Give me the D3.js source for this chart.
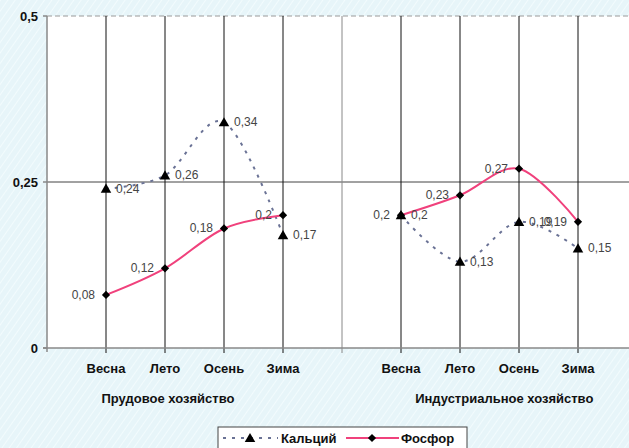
<!DOCTYPE html>
<html>
<head>
<meta charset="utf-8">
<script src="https://cdn.jsdelivr.net/npm/d3@7"></script>
<style>
  html, body { margin: 0; padding: 0; background: #e8f6fa; }
  svg { display: block; font-family: "Liberation Sans", Arial, sans-serif; }
</style>
</head>
<body>
<svg id="chart" width="629" height="448"></svg>
<script>
// ---- data ----
const categories = ["Весна", "Лето", "Осень", "Зима", "", "Весна", "Лето", "Осень", "Зима"];
const groups = ["Прудовое хозяйство", "Индустриальное хозяйство"];
const calcium = [0.24, 0.26, 0.34, 0.17, null, 0.2, 0.13, 0.19, 0.15];
const phosphorus = [0.08, 0.12, 0.18, 0.2, null, 0.2, 0.23, 0.27, 0.19];
const yTicks = [0, 0.25, 0.5];
const seriesNames = ["Кальций", "Фосфор"];

// ---- layout ----
const W = 629, H = 448;
const svg = d3.select("#chart");
const x = d3.scaleLinear().domain([0, 10]).range([47, 637]);
const y = d3.scaleLinear().domain([0, 0.5]).range([348, 16]);
const fmt = v => String(v).replace(".", ",");

// background with subtle diagonal texture
const defs = svg.append("defs");
const pat = defs.append("pattern").attr("id", "bgp").attr("width", 6).attr("height", 6)
  .attr("patternUnits", "userSpaceOnUse").attr("patternTransform", "rotate(35)");
pat.append("rect").attr("width", 6).attr("height", 6).attr("fill", "#e7f5f9");
pat.append("line").attr("x1", 0).attr("y1", 0).attr("x2", 0).attr("y2", 6)
  .attr("stroke", "#f2fbfd").attr("stroke-width", 2);
svg.append("rect").attr("width", W).attr("height", H).attr("fill", "url(#bgp)");

// plot area
svg.append("rect").attr("x", x(0)).attr("y", y(0.5))
  .attr("width", W - x(0)).attr("height", y(0) - y(0.5)).attr("fill", "#ffffff");

// top border dashed
svg.append("line").attr("x1", x(0)).attr("x2", W).attr("y1", y(0.5)).attr("y2", y(0.5))
  .attr("stroke", "#9a9a9a").attr("stroke-width", 1).attr("stroke-dasharray", "5,3");

// horizontal gridline at 0.25
svg.append("line").attr("x1", x(0)).attr("x2", W).attr("y1", y(0.25)).attr("y2", y(0.25))
  .attr("stroke", "#444").attr("stroke-width", 1);

// vertical gridlines
const idx = d3.range(1, 10);
svg.append("g").selectAll("line").data(idx).join("line")
  .attr("x1", i => x(i)).attr("x2", i => x(i))
  .attr("y1", y(0.5)).attr("y2", y(0) + 5)
  .attr("stroke", i => categories[i - 1] === "" ? "#888" : "#111")
  .attr("stroke-width", 1);

// axes
svg.append("line").attr("x1", x(0) - 4).attr("x2", W).attr("y1", y(0)).attr("y2", y(0))
  .attr("stroke", "#888").attr("stroke-width", 1.5);
svg.append("line").attr("x1", x(0)).attr("x2", x(0)).attr("y1", y(0.5)).attr("y2", y(0) + 4)
  .attr("stroke", "#888").attr("stroke-width", 1.5);
svg.append("g").selectAll("line").data(yTicks).join("line")
  .attr("x1", x(0) - 4).attr("x2", x(0)).attr("y1", d => y(d)).attr("y2", d => y(d))
  .attr("stroke", "#888").attr("stroke-width", 1.5);
svg.append("g").selectAll("text").data(yTicks).join("text")
  .attr("x", 38).attr("y", d => y(d) + 4.5).attr("text-anchor", "end")
  .attr("font-size", 13).attr("font-weight", "bold").attr("fill", "#111")
  .text(d => fmt(d));

// category labels
svg.append("g").selectAll("text").data(categories.map((c, i) => ({ c, i: i + 1 })).filter(d => d.c))
  .join("text")
  .attr("x", d => x(d.i)).attr("y", 373).attr("text-anchor", "middle")
  .attr("font-size", 13).attr("font-weight", "bold").attr("fill", "#111")
  .text(d => d.c);

// group labels
const groupPos = [2.05, 7.75];
svg.append("g").selectAll("text").data(groups).join("text")
  .attr("x", (d, i) => x(groupPos[i])).attr("y", 403).attr("text-anchor", "middle")
  .attr("font-size", 13).attr("font-weight", "bold").attr("fill", "#111")
  .text(d => d);

// lines
const line = d3.line()
  .defined(d => d.v != null)
  .x(d => x(d.i)).y(d => y(d.v))
  .curve(d3.curveCatmullRom.alpha(0));
const calData = calcium.map((v, i) => ({ v, i: i + 1 }));
const phoData = phosphorus.map((v, i) => ({ v, i: i + 1 }));

svg.append("path").datum(calData).attr("d", line)
  .attr("fill", "none").attr("stroke", "#6a7295").attr("stroke-width", 2)
  .attr("stroke-dasharray", "3,6");
svg.append("path").datum(phoData).attr("d", line)
  .attr("fill", "none").attr("stroke", "#f0417c").attr("stroke-width", 2);

// markers
const tri = d3.symbol().type(d3.symbolTriangle).size(48);
const dia = d3.symbol().type(d3.symbolSquare).size(34);
svg.append("g").selectAll("path").data(calData.filter(d => d.v != null)).join("path")
  .attr("d", tri).attr("transform", d => `translate(${x(d.i)},${y(d.v) + 1})`).attr("fill", "#000");
svg.append("g").selectAll("path").data(phoData.filter(d => d.v != null)).join("path")
  .attr("d", dia).attr("transform", d => `translate(${x(d.i)},${y(d.v)}) rotate(45)`).attr("fill", "#000");

// data labels
svg.append("g").selectAll("text").data(calData.filter(d => d.v != null)).join("text")
  .attr("x", d => x(d.i) + 10).attr("y", d => y(d.v) + 4)
  .attr("font-size", 12).attr("fill", "#444").text(d => fmt(d.v));
svg.append("g").selectAll("text").data(phoData.filter(d => d.v != null)).join("text")
  .attr("x", d => x(d.i) - 11).attr("y", d => y(d.v) + 4).attr("text-anchor", "end")
  .attr("font-size", 12).attr("fill", "#444").text(d => fmt(d.v));

// legend
const lg = svg.append("g");
lg.append("rect").attr("x", 218).attr("y", 427).attr("width", 249).attr("height", 30)
  .attr("fill", "#ffffff").attr("stroke", "#444").attr("stroke-width", 1);
lg.append("line").attr("x1", 223).attr("x2", 278).attr("y1", 438).attr("y2", 438)
  .attr("stroke", "#6a7295").attr("stroke-width", 2).attr("stroke-dasharray", "3,6");
lg.append("path").attr("d", tri).attr("transform", "translate(250,439)").attr("fill", "#000");
lg.append("text").attr("x", 281).attr("y", 443).attr("font-size", 13).attr("font-weight", "bold")
  .attr("fill", "#111").text(seriesNames[0]);
lg.append("line").attr("x1", 346).attr("x2", 399).attr("y1", 438).attr("y2", 438)
  .attr("stroke", "#f0417c").attr("stroke-width", 2);
lg.append("path").attr("d", dia).attr("transform", "translate(372,438) rotate(45)").attr("fill", "#000");
lg.append("text").attr("x", 401).attr("y", 443).attr("font-size", 13).attr("font-weight", "bold")
  .attr("fill", "#111").text(seriesNames[1]);
</script>
</body>
</html>
